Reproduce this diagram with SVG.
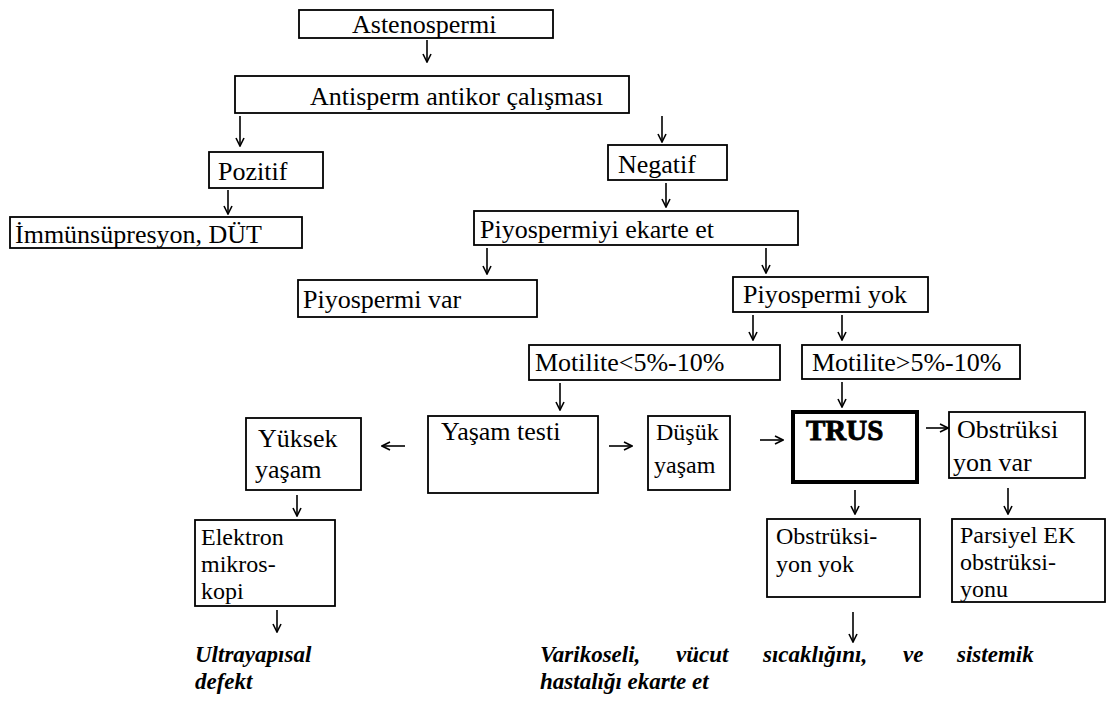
<svg xmlns="http://www.w3.org/2000/svg" width="1111" height="715" viewBox="0 0 1111 715">
<defs>
<marker id="ah" viewBox="0 0 10 10" refX="9" refY="5" markerWidth="10" markerHeight="10" markerUnits="userSpaceOnUse" orient="auto">
<path d="M1,1 L9,5 L1,9" fill="none" stroke="#000" stroke-width="1.6"/>
</marker>
</defs>
<style>
text{font-family:'Liberation Serif','Times New Roman',Tinos,'DejaVu Serif',serif;fill:#000}
.b{fill:#fff;stroke:#000;stroke-width:1.8}
.bt{fill:#fff;stroke:#000;stroke-width:4}
.t{font-size:26px}
.m{font-size:24px}
.tr{font-size:29px;font-weight:bold;stroke:#000;stroke-width:0.9}
.it{font-size:23px;font-weight:bold;font-style:italic}
.c line{stroke:#000;stroke-width:1.6;marker-end:url(#ah)}
</style>
<rect width="1111" height="715" fill="#fff"/>
<g class="c" id="connectors">
<line x1="427" y1="40" x2="427" y2="62"/>
<line x1="240" y1="116" x2="240" y2="146"/>
<line x1="662" y1="116" x2="662" y2="142"/>
<line x1="228" y1="190" x2="228" y2="214"/>
<line x1="666" y1="183" x2="666" y2="207"/>
<line x1="487" y1="248" x2="487" y2="274"/>
<line x1="766" y1="248" x2="766" y2="273"/>
<line x1="753" y1="315" x2="753" y2="340"/>
<line x1="842" y1="315" x2="842" y2="340"/>
<line x1="560" y1="383" x2="560" y2="410"/>
<line x1="842" y1="382" x2="842" y2="407"/>
<line x1="405" y1="446" x2="382" y2="446"/>
<line x1="609" y1="446" x2="632" y2="446"/>
<line x1="760" y1="440" x2="783" y2="440"/>
<line x1="926" y1="428" x2="948" y2="428"/>
<line x1="855" y1="490" x2="855" y2="514"/>
<line x1="1008" y1="488" x2="1008" y2="514"/>
<line x1="297" y1="495" x2="297" y2="516"/>
<line x1="277" y1="610" x2="277" y2="632"/>
<line x1="853" y1="612" x2="853" y2="642"/>
</g>
<g id="astenospermi"><rect class="b" x="299" y="10" width="254" height="28"/><text class="t" x="352" y="33">Astenospermi</text></g>
<g id="antisperm"><rect class="b" x="235" y="76" width="394" height="37"/><text class="t" x="310" y="105">Antisperm antikor çalışması</text></g>
<g id="pozitif"><rect class="b" x="209" y="152" width="114" height="36"/><text class="t" x="218" y="180">Pozitif</text></g>
<g id="immun"><rect class="b" x="10" y="217" width="292" height="31"/><text class="t" x="15" y="243">İmmünsüpresyon, DÜT</text></g>
<g id="negatif"><rect class="b" x="608" y="145" width="119" height="35"/><text class="t" x="618" y="173">Negatif</text></g>
<g id="piyoekarte"><rect class="b" x="474" y="211" width="324" height="34"/><text class="t" x="480" y="238">Piyospermiyi ekarte et</text></g>
<g id="piyovar"><rect class="b" x="298" y="280" width="239" height="37"/><text class="t" x="303" y="308">Piyospermi var</text></g>
<g id="piyoyok"><rect class="b" x="733" y="277" width="195" height="35"/><text class="t" x="743" y="303">Piyospermi yok</text></g>
<g id="motlow"><rect class="b" x="529" y="345" width="251" height="35"/><text class="t" x="535" y="371">Motilite&lt;5%-10%</text></g>
<g id="mothigh"><rect class="b" x="802" y="345" width="218" height="34"/><text class="t" x="812" y="371">Motilite&gt;5%-10%</text></g>
<g id="yasamtesti"><rect class="b" x="428" y="416" width="170" height="77"/><text class="t" x="441" y="440">Yaşam testi</text></g>
<g id="yuksek"><rect class="b" x="246" y="418" width="115" height="72"/><text class="t" x="258" y="447">Yüksek</text><text class="t" x="255" y="478">yaşam</text></g>
<g id="dusuk"><rect class="b" x="648" y="416" width="82" height="74"/><text class="m" x="656" y="440">Düşük</text><text class="m" x="654" y="473">yaşam</text></g>
<g id="trus"><rect class="bt" x="793" y="412" width="124" height="70"/><text class="tr" x="806" y="440">TRUS</text></g>
<g id="obsvar"><rect class="b" x="949" y="412" width="136" height="66"/><text class="t" x="957" y="438">Obstrüksi</text><text class="t" x="953" y="471">yon var</text></g>
<g id="elektron"><rect class="b" x="195" y="520" width="140" height="86"/><text class="m" x="201" y="545">Elektron</text><text class="m" x="201" y="572">mikros-</text><text class="m" x="201" y="599">kopi</text></g>
<g id="obsyok"><rect class="b" x="767" y="519" width="153" height="78"/><text class="m" x="776" y="544">Obstrüksi-</text><text class="m" x="776" y="572">yon yok</text></g>
<g id="parsiyel"><rect class="b" x="952" y="519" width="153" height="83"/><text class="m" x="960" y="543">Parsiyel EK</text><text class="m" x="960" y="570">obstrüksi-</text><text class="m" x="960" y="597">yonu</text></g>
<g id="ultra"><text class="it" x="195" y="662">Ultrayapısal</text><text class="it" x="195" y="689">defekt</text></g>
<g id="varikosel"><text class="it" y="662"><tspan x="540">Varikoseli,</tspan><tspan x="676">vücut</tspan><tspan x="763">sıcaklığını,</tspan><tspan x="903">ve</tspan><tspan x="957">sistemik</tspan></text><text class="it" x="540" y="689">hastalığı ekarte et</text></g>
</svg>
